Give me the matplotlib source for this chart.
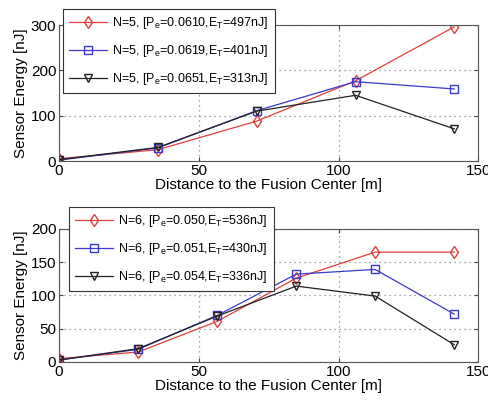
import matplotlib
matplotlib.use("Agg")
import matplotlib.pyplot as plt

plt.rcParams['font.family'] = ['Liberation Sans', 'DejaVu Sans']
plt.rcParams['mathtext.default'] = 'regular'

# N = 5 sensors
x5 = [0, 35.4, 70.7, 106.1, 141.4]
red5 = [5, 25, 88, 177, 296]
blue5 = [2, 29, 111, 175, 159]
black5 = [3, 30, 110, 145, 71]
labels5 = ["N=5, [P$_e$=0.0610,E$_T$=497nJ]",
           "N=5, [P$_e$=0.0619,E$_T$=401nJ]",
           "N=5, [P$_e$=0.0651,E$_T$=313nJ]"]

# N = 6 sensors
x6 = [0, 28.3, 56.6, 84.9, 113.1, 141.4]
red6 = [5, 15, 61, 126, 165, 165]
blue6 = [3, 19, 70, 132, 139, 72]
black6 = [3, 20, 69, 114, 99, 26]
labels6 = ["N=6, [P$_e$=0.050,E$_T$=536nJ]",
           "N=6, [P$_e$=0.051,E$_T$=430nJ]",
           "N=6, [P$_e$=0.054,E$_T$=336nJ]"]

fig = plt.figure(figsize=(4.88, 4.01), dpi=100)
ax1 = fig.add_axes([0.121, 0.5985, 0.859, 0.339])
ax2 = fig.add_axes([0.121, 0.0973, 0.859, 0.332])


def draw(ax, x, ys, labels, yticks, anchor):
    styles = [('#e0403c', 'd'), ('#3a3acc', 's'), ('#222222', 'v')]
    for y, lab, (c, m) in zip(ys, labels, styles):
        ax.plot(x, y, color=c, marker=m, mfc='none', mec=c, ms=6,
                lw=0.9, label=lab)
    ax.set_xlim(0, 150)
    ax.set_ylim(yticks[0], yticks[-1])
    ax.set_xticks([0, 50, 100, 150])
    ax.set_yticks(yticks)
    ax.grid(True, linestyle=(0, (1, 3)), color='#888888', lw=0.9)
    ax.tick_params(direction='in', top=True, right=True, labelsize=11,
                   pad=2, length=3, color='#444444')
    for s in ax.spines.values():
        s.set_color('#555555')
    ax.set_xlabel("Distance to the Fusion Center [m]", fontsize=11, labelpad=0)
    ax.set_ylabel("Sensor Energy [nJ]", fontsize=11, labelpad=2)
    leg = ax.legend(loc='upper left', bbox_to_anchor=anchor, fontsize=9,
                    fancybox=False, framealpha=1, edgecolor='#333333',
                    handlelength=3.0, labelspacing=0.95, borderpad=0.5,
                    handletextpad=0.4, borderaxespad=0)
    leg.get_frame().set_linewidth(0.8)
    leg.set_zorder(5)


draw(ax1, x5, [red5, blue5, black5], labels5, [0, 100, 200, 300], (0.01, 1.118))
draw(ax2, x6, [red6, blue6, black6], labels6, [0, 50, 100, 150, 200], (0.024, 1.165))

fig.savefig("out.png", dpi=100)
